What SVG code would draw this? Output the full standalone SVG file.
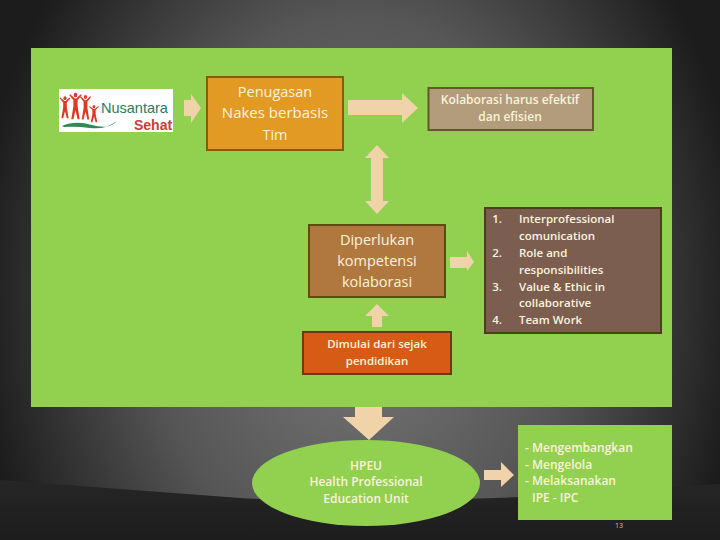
<svg xmlns="http://www.w3.org/2000/svg" width="720" height="540" viewBox="0 0 720 540">
<defs>
<radialGradient id="bg" gradientUnits="userSpaceOnUse" cx="360" cy="0" r="385" gradientTransform="translate(0 290) scale(1 1.3)">
<stop offset="0" stop-color="#7a7a7a"/><stop offset=".55" stop-color="#565656"/><stop offset="1" stop-color="#1c1c1c"/>
</radialGradient>
<linearGradient id="band" x1="0" y1="0" x2="0" y2="1"><stop offset="0" stop-color="#262626"/><stop offset="1" stop-color="#1d1d1d"/></linearGradient>
<g id="fig"><circle cx="0" cy="-15" r="2.6"/><path d="M-9 -15L-3 -9L-3 -2L-6 13L-3 13L0 3L3 13L6 13L3 -2L3 -9L9 -15L7.500 -16L1 -11L-1 -11L-7.500 -16Z"/></g>
</defs>
<style>
text{font-family:"Open Sans","Liberation Sans",sans-serif;fill:#fbf3dc;text-anchor:middle}
.l{font-size:14.5px}.m{font-size:12px;font-weight:600}.s{font-size:11.5px;font-weight:600}
.a{fill:#f0d3a8}
.st{text-anchor:start}
.lg{font-family:"Liberation Sans",sans-serif;text-anchor:start}
</style>
<rect width="720" height="540" fill="url(#bg)"/>
<path d="M0 480L240 498Q340 504 520 497L720 484V540H0Z" fill="url(#band)"/>
<rect id="panel" x="31" y="48" width="641" height="359" fill="#92d050"/>
<g id="connectors">
<path class="a" d="M184 100H191V94L201 108L191 123V116H184Z"/>
<path class="a" d="M348 100H402V93L418 108L402 123V115H348Z"/>
<path class="a" d="M377 145L389 158H383V201H389L377 214L365 201H371V158H365Z"/>
<path class="a" d="M450 257H467V251L474 262L467 271V268H450Z"/>
<path class="a" d="M377 304L389 316H382V327H372V316H365Z"/>
<path class="a" d="M355 407H382V417H394L369 440L343 417H355Z"/>
<path class="a" d="M484 470H501V462L514 475L501 487V480H484Z"/>
</g>
<g id="logo">
<rect x="59" y="89" width="114" height="43" fill="#fff"/>
<g fill="#dc3a24">
<use href="#fig" transform="translate(65 109) scale(.6 .72)"/>
<use href="#fig" transform="translate(75.500 108) scale(.7 .86)"/>
<use href="#fig" transform="translate(85.500 109) scale(.62 .8)"/>
<use href="#fig" transform="translate(94 115) scale(.55 .55)"/>
</g>
<path d="M62 126Q75 120 92 125T117 121Q105 130 90 128T64 127Z" fill="#2e8b57"/>
<text class="lg" x="101" y="113" style="font-size:14.500px;fill:#2c7a62">Nusantara</text>
<text class="lg" x="134" y="129.500" style="font-size:14px;fill:#c2403a;font-weight:700">Sehat</text>
</g>
<g id="n1"><rect x="207" y="77" width="136" height="73" fill="#e39a25" stroke="#7f6000" stroke-width="2"/>
<text class="l" x="275" y="97">Penugasan</text><text class="l" x="275" y="118" style="font-size:15px">Nakes berbasis</text><text class="l" x="275" y="140">Tim</text></g>
<g id="n2"><rect x="428.500" y="88" width="164.500" height="42" fill="#b29c7b" stroke="#62592a" stroke-width="2"/>
<text class="m" x="510" y="104">Kolaborasi harus efektif</text><text class="m" x="510" y="121">dan efisien</text></g>
<g id="n3"><rect x="309" y="225" width="136" height="72" fill="#b0783f" stroke="#5f4a10" stroke-width="2"/>
<text class="l" x="377" y="245">Diperlukan</text><text class="l" x="377" y="266">kompetensi</text><text class="l" x="377" y="287">kolaborasi</text></g>
<g id="n4"><rect x="485" y="208" width="176" height="125" fill="#7b5e50" stroke="#4a3f1a" stroke-width="2"/>
<g class="s">
<text class="s" x="497" y="223">1.</text><text class="s st" x="519" y="223">Interprofessional</text>
<text class="s st" x="519" y="240">comunication</text>
<text class="s" x="497" y="257">2.</text><text class="s st" x="519" y="257">Role and</text>
<text class="s st" x="519" y="274">responsibilities</text>
<text class="s" x="497" y="291">3.</text><text class="s st" x="519" y="291">Value &amp; Ethic in</text>
<text class="s st" x="519" y="307">collaborative</text>
<text class="s" x="497" y="324">4.</text><text class="s st" x="519" y="324">Team Work</text>
</g></g>
<g id="n5"><rect x="303" y="332" width="148" height="42" fill="#d75b15" stroke="#6b3a10" stroke-width="2"/>
<text class="s" x="377" y="348">Dimulai dari sejak</text><text class="s" x="377" y="365">pendidikan</text></g>
<g id="n6"><ellipse cx="366" cy="483" rx="114" ry="43" fill="#92d050"/>
<text class="m" x="366" y="470">HPEU</text><text class="m" x="366" y="486">Health Professional</text><text class="m" x="366" y="503">Education Unit</text></g>
<g id="n7"><rect x="518" y="425" width="154" height="95" fill="#92d050"/>
<text class="m st" x="525" y="452">- Mengembangkan</text><text class="m st" x="525" y="469">- Mengelola</text><text class="m st" x="525" y="485">- Melaksanakan</text><text class="m st" x="532" y="502">IPE - IPC</text></g>
<text x="619" y="528" style="font-size:7px;fill:#e9c46a">13</text>
</svg>
